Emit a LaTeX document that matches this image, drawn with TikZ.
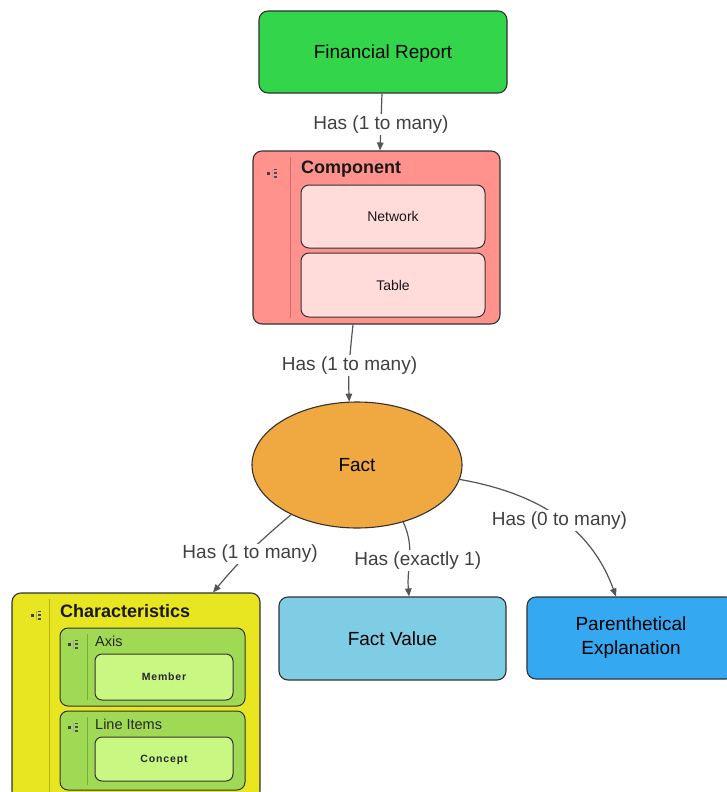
\documentclass[tikz,border=0pt]{standalone}
\usepackage{fontspec}
\setmainfont{Liberation Sans}
\usetikzlibrary{arrows.meta,shapes.geometric}
\definecolor{frgreen}{RGB}{51,214,74}
\definecolor{salmon}{RGB}{255,146,140}
\definecolor{salmonlight}{RGB}{255,219,217}
\definecolor{salmondark}{RGB}{205,110,104}
\definecolor{factorange}{RGB}{240,168,64}
\definecolor{charyellow}{RGB}{232,230,32}
\definecolor{chardark}{RGB}{185,180,16}
\definecolor{midgreen}{RGB}{160,218,85}
\definecolor{midgreendark}{RGB}{118,176,60}
\definecolor{lightgreen}{RGB}{200,248,130}
\definecolor{fvblue}{RGB}{127,205,228}
\definecolor{pblue}{RGB}{52,169,242}
\definecolor{edgegray}{RGB}{85,85,85}
\definecolor{lblgray}{RGB}{64,64,64}
\definecolor{boxborder}{RGB}{50,50,50}
\tikzset{
  box/.style={draw=boxborder, line width=1.1pt, rounded corners=9pt, inner sep=0pt},
  innerbox/.style={draw=boxborder, line width=1pt, rounded corners=8pt, inner sep=0pt},
  bigfont/.style={font=\fontsize{19}{24}\selectfont, text=black},
  bigtext/.style={bigfont, text height=13.6pt, text depth=0pt},
  smalltext/.style={font=\fontsize{14}{17}\selectfont, text=black!90, text height=10pt, text depth=0pt},
  tinytext/.style={font=\fontsize{10.5}{13}\selectfont\bfseries, text=black!85, text height=7.6pt, text depth=0pt},
  titletext/.style={font=\fontsize{18}{22}\selectfont\bfseries, text=black!90, anchor=west, inner sep=0pt},
  subtitle/.style={font=\fontsize{14.5}{18}\selectfont, text=black!85, anchor=west, inner sep=0pt},
  edge/.style={draw=edgegray, line width=1.2pt, -{Triangle[length=8pt,width=6.5pt]}},
  lbl/.style={fill=white, inner sep=1.5pt, font=\fontsize{19}{23}\selectfont, text=lblgray, yshift=-2.5pt}
}
\newcommand{\listicon}[2]{%
  \fill[black!75] (#1-5.5,#2-1.5) rectangle (#1-2.5,#2+1.5);
  \draw[black!35, line width=0.5pt] (#1+0.5,#2-4.5) -- (#1+0.5,#2+4.5);
  \fill[black!70] (#1+2,#2-4.5) rectangle (#1+5,#2-3);
  \fill[black!70] (#1+2,#2-0.75) rectangle (#1+5,#2+0.75);
  \fill[black!70] (#1+2,#2+3) rectangle (#1+5,#2+4.5);
}
\begin{document}
\begin{tikzpicture}[x=1pt,y=-1pt]
\clip (0,0) rectangle (727,792);
\fill[white] (0,0) rectangle (727,792);

% Financial Report
\node[box, fill=frgreen, minimum width=248pt, minimum height=82pt, bigtext] (fr) at (383,52) {Financial Report};

% Component
\node[box, fill=salmon, minimum width=247pt, minimum height=173pt] (comp) at (376.5,237.5) {};
\draw[salmondark, line width=1pt] (290,157) -- (290,318);
\listicon{272}{173}
\node[titletext] (comptitle) at (301,169) {Component};
\node[innerbox, fill=salmonlight, minimum width=184pt, minimum height=63pt, smalltext] (net) at (393,216.5) {Network};
\node[innerbox, fill=salmonlight, minimum width=184pt, minimum height=64pt, smalltext] (tab) at (393,285) {Table};

% Fact
\node[ellipse, draw=boxborder, line width=1.1pt, fill=factorange, minimum width=210pt, minimum height=126pt, inner sep=0pt, bigtext] (fact) at (357,465) {Fact};

% Characteristics
\node[box, fill=charyellow, minimum width=248pt, minimum height=207pt] (char) at (136,696.5) {};
\draw[chardark, line width=1pt] (49,599) -- (49,795);
\listicon{36}{615}
\node[titletext] (chartitle) at (60,611) {Characteristics};

\node[innerbox, fill=midgreen, minimum width=185pt, minimum height=78pt] (axis) at (152.5,667) {};
\draw[midgreendark, line width=1pt] (87,634) -- (87,700);
\listicon{73}{644}
\node[subtitle] (axistitle) at (95,641) {Axis};
\node[innerbox, rounded corners=7pt, fill=lightgreen, minimum width=138pt, minimum height=46pt, tinytext] (member) at (164,677) {\addfontfeatures{LetterSpace=8}Member};

\node[innerbox, fill=midgreen, minimum width=185pt, minimum height=79pt] (lineitems) at (152.5,750.5) {};
\draw[midgreendark, line width=1pt] (87,717) -- (87,785);
\listicon{73}{727}
\node[subtitle] (lititle) at (95,724) {Line Items};
\node[innerbox, rounded corners=7pt, fill=lightgreen, minimum width=138pt, minimum height=44pt, tinytext] (concept) at (164,759) {\addfontfeatures{LetterSpace=8}Concept};

% Fact Value and Parenthetical Explanation
\node[box, fill=fvblue, minimum width=227pt, minimum height=83pt, bigtext] (fv) at (392.5,638.5) {Fact Value};
\node[box, fill=pblue, minimum width=208pt, minimum height=82pt, bigfont, align=center] (paren) at (631,638) {Parenthetical\\Explanation};

% Connectors
\draw[edge] ([xshift=-1pt]fr.south) -- node[lbl] {Has (1 to many)} ([xshift=-3pt]comp.north -| fr.south);
\draw[edge] ([xshift=-23.5pt]comp.south) to[out=-96,in=92] node[lbl] {Has (1 to many)} (fact.97);
\draw[edge] (fact.217) to[out=-140,in=50] node[lbl] {Has (1 to many)} ([xshift=77pt]char.north);
\draw[edge] (fact.309) to[out=-65,in=95] node[lbl, xshift=8pt] {Has (exactly 1)} ([xshift=16.5pt]fv.north);
\draw[edge] (fact.352) to[out=-10,in=110] node[lbl, pos=0.52] {Has (0 to many)} ([xshift=-15pt]paren.north);
\end{tikzpicture}
\end{document}
